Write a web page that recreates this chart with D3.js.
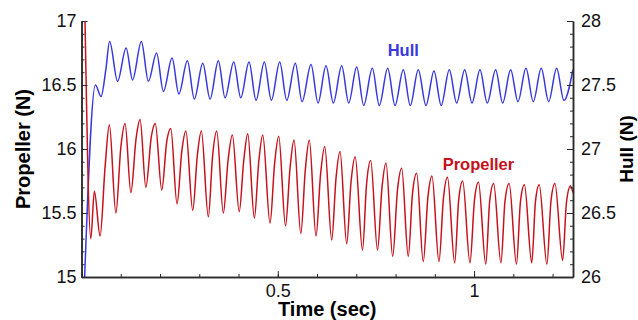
<!DOCTYPE html>
<html>
<head>
<meta charset="utf-8">
<script src="https://cdn.jsdelivr.net/npm/d3@7"></script>
<style>
body { margin: 0; background: #fff; }
svg { display: block; font-family: "Liberation Sans", Arial, sans-serif; }
.axis path, .axis line { stroke: #2a2a2a; }
.axis path { stroke-width: 1.5; }
.axis text { font-size: 18px; fill: #111; }
</style>
</head>
<body>
<svg id="chart" width="638" height="320"></svg>
<script>
// hull force (right axis, N) : peaks / troughs
var hullTime = [0.008, 0.0354, 0.0499, 0.062, 0.0716, 0.0919, 0.1136, 0.1301, 0.1525, 0.1704,
    0.1912, 0.2086, 0.2307, 0.2480, 0.2697, 0.2875, 0.3089, 0.3275, 0.3486, 0.3657,
    0.3878, 0.4057, 0.4268, 0.4446, 0.4658, 0.4836, 0.5050, 0.5228, 0.5447, 0.5618,
    0.5847, 0.6025, 0.6229, 0.6415, 0.6628, 0.6807, 0.7010, 0.7189, 0.7408, 0.7586,
    0.7800, 0.7986, 0.8197, 0.8375, 0.8579, 0.8775, 0.8979, 0.9162, 0.9369, 0.9557,
    0.9761, 0.9947, 1.0150, 1.0336, 1.0550, 1.0728, 1.0932, 1.1118, 1.1322, 1.1508,
    1.1711, 1.1900, 1.2103, 1.2289, 1.2518];
var hullForce = [26.00, 27.50, 27.41, 27.62, 27.84, 27.53, 27.79, 27.54, 27.84, 27.53,
    27.75, 27.45, 27.71, 27.43, 27.69, 27.39, 27.67, 27.39, 27.69, 27.40,
    27.68, 27.40, 27.68, 27.38, 27.68, 27.38, 27.68, 27.38, 27.67, 27.37,
    27.66, 27.36, 27.65, 27.36, 27.65, 27.36, 27.64, 27.34, 27.63, 27.34,
    27.63, 27.34, 27.62, 27.34, 27.62, 27.34, 27.61, 27.34, 27.62, 27.36,
    27.62, 27.36, 27.62, 27.36, 27.62, 27.36, 27.62, 27.37, 27.63, 27.37,
    27.63, 27.37, 27.63, 27.38, 27.62];

// propeller force (left axis, N) : trough, shoulder, peak per cycle
var propTime = [0.009, 0.0237, 0.0328, 0.0474, 0.0601, 0.0710, 0.0876, 0.1001, 0.1110, 0.1258,
    0.1390, 0.1492, 0.1640, 0.1780, 0.1879, 0.2045, 0.2172, 0.2274, 0.2434, 0.2554,
    0.2659, 0.2834, 0.2951, 0.3053, 0.3231, 0.3338, 0.3445, 0.3613, 0.3733, 0.3843,
    0.4018, 0.4133, 0.4235, 0.4403, 0.4515, 0.4617, 0.4803, 0.4917, 0.5024, 0.5197,
    0.5312, 0.5414, 0.5587, 0.5702, 0.5803, 0.5974, 0.6089, 0.6196, 0.6374, 0.6483,
    0.6585, 0.6756, 0.6865, 0.6972, 0.7158, 0.7260, 0.7367, 0.7540, 0.7655, 0.7757,
    0.7927, 0.8049, 0.8156, 0.8324, 0.8431, 0.8538, 0.8706, 0.8826, 0.8928, 0.9106,
    0.9221, 0.9323, 0.9506, 0.9608, 0.9710, 0.9896, 1.0010, 1.0112, 1.0298, 1.0397,
    1.0499, 1.0685, 1.0787, 1.0894, 1.1080, 1.1182, 1.1283, 1.1469, 1.1564, 1.1660,
    1.1856, 1.1958, 1.2060, 1.2256, 1.2353, 1.2455, 1.2518];
var propForce = [17.00, 15.30, 15.67, 15.32, 15.86, 16.19, 15.50, 16.01, 16.20, 15.66,
    16.08, 16.23, 15.70, 16.10, 16.20, 15.68, 16.06, 16.16, 15.57, 15.98,
    16.14, 15.52, 15.95, 16.14, 15.47, 15.94, 16.14, 15.50, 15.91, 16.11,
    15.51, 15.91, 16.12, 15.46, 15.90, 16.11, 15.42, 15.88, 16.10, 15.40,
    15.85, 16.07, 15.34, 15.84, 16.07, 15.32, 15.80, 16.02, 15.29, 15.77,
    15.98, 15.26, 15.74, 15.94, 15.21, 15.72, 15.91, 15.21, 15.70, 15.89,
    15.16, 15.68, 15.85, 15.16, 15.65, 15.81, 15.12, 15.63, 15.79, 15.12,
    15.62, 15.78, 15.11, 15.60, 15.75, 15.11, 15.60, 15.74, 15.10, 15.59,
    15.73, 15.11, 15.59, 15.73, 15.10, 15.59, 15.72, 15.11, 15.59, 15.72,
    15.10, 15.59, 15.73, 15.13, 15.58, 15.71, 15.66];

var propTicks = [15, 15.5, 16, 16.5, 17];
var hullTicks = [26, 26.5, 27, 27.5, 28];
var timeTicks = [0.5, 1];

var blue = "#3838de", red = "#c5121c";

var svg = d3.select("#chart");
var x0 = 81.5, x1 = 573, yTop = 21, yBot = 277;

var x = d3.scaleLinear().domain([0, 1.252]).range([x0, x1]);
var yProp = d3.scaleLinear().domain([15, 17]).range([yBot, yTop]);
var yHull = d3.scaleLinear().domain([26, 28]).range([yBot, yTop]);

svg.append("clipPath").attr("id", "clip")
    .append("rect").attr("x", x0).attr("y", yTop).attr("width", x1 - x0).attr("height", yBot - yTop);

var plot = svg.append("g").attr("clip-path", "url(#clip)");

var hullLine = d3.line()
    .x(function(d, i) { return x(hullTime[i]); })
    .y(function(d) { return yHull(d); })
    .curve(d3.curveMonotoneX);
var propLine = d3.line()
    .x(function(d, i) { return x(propTime[i]); })
    .y(function(d) { return yProp(d); })
    .curve(d3.curveMonotoneX);

plot.append("path").datum(hullForce).attr("d", hullLine)
    .attr("fill", "none").attr("stroke", blue).attr("stroke-width", 1.5).attr("stroke-linejoin", "round");
plot.append("path").datum(propForce).attr("d", propLine)
    .attr("fill", "none").attr("stroke", red).attr("stroke-width", 1.5).attr("stroke-linejoin", "round");

// minor ticks first, major axes on top
svg.append("g").attr("class", "axis").attr("transform", "translate(" + x0 + ",0)")
    .call(d3.axisLeft(yProp).tickValues(yProp.ticks(20)).tickSize(-3).tickSizeOuter(0).tickFormat(""));
svg.append("g").attr("class", "axis").attr("transform", "translate(" + x1 + ",0)")
    .call(d3.axisRight(yHull).tickValues(yHull.ticks(20)).tickSize(-3).tickSizeOuter(0).tickFormat(""));
svg.append("g").attr("class", "axis").attr("transform", "translate(0," + yBot + ")")
    .call(d3.axisBottom(x).tickValues(x.ticks(12)).tickSize(-3).tickSizeOuter(0).tickFormat(""));

svg.append("g").attr("class", "axis").attr("transform", "translate(" + x0 + ",0)")
    .call(d3.axisLeft(yProp).tickValues(propTicks).tickSize(-6).tickSizeOuter(0).tickPadding(5).tickFormat(d3.format("")));
svg.append("g").attr("class", "axis").attr("transform", "translate(" + x1 + ",0)")
    .call(d3.axisRight(yHull).tickValues(hullTicks).tickSize(-6).tickSizeOuter(0).tickPadding(8).tickFormat(d3.format("")));
svg.append("g").attr("class", "axis").attr("transform", "translate(0," + yBot + ")")
    .call(d3.axisBottom(x).tickValues(timeTicks).tickSize(-6).tickSizeOuter(0).tickPadding(7).tickFormat(d3.format("")));

svg.selectAll(".axis .domain").attr("stroke-width", 1.5);

// axis titles
svg.append("text").attr("transform", "translate(" + ((x0 + x1) / 2) + ",316)")
    .attr("text-anchor", "middle").attr("font-size", 20).attr("font-weight", "bold")
    .text("Time (sec)");
svg.append("text").attr("transform", "translate(30,149) rotate(-90)")
    .attr("text-anchor", "middle").attr("font-size", 20).attr("font-weight", "bold")
    .text("Propeller (N)");
// the reference crops this title at the right edge; kept just inside
svg.append("text").attr("transform", "translate(633,149) rotate(-90)")
    .attr("text-anchor", "middle").attr("font-size", 19).attr("font-weight", "bold")
    .text("Hull (N)");

// series labels
svg.append("text").attr("x", x(0.78)).attr("y", 56).attr("font-size", 16.5)
    .attr("font-weight", "bold").attr("fill", blue).text("Hull");
svg.append("text").attr("x", x(0.92)).attr("y", 170).attr("font-size", 16.5)
    .attr("font-weight", "bold").attr("fill", red).text("Propeller");
</script>
</body>
</html>
